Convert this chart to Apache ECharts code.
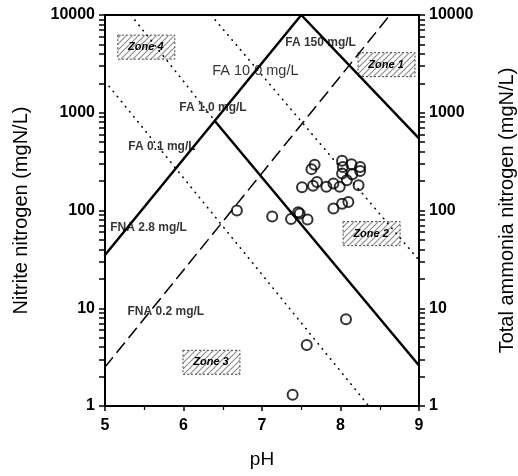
<!DOCTYPE html>
<html>
<head>
<meta charset="utf-8">
<script src="https://cdn.jsdelivr.net/npm/echarts@6/dist/echarts.min.js"></script>
<style>
html,body{margin:0;padding:0;background:#fff;}
#chart{width:518px;height:476px;}
</style>
</head>
<body>
<div id="chart"></div>
<script>
var phTicks = [5, 6, 7, 8, 9];
var yMajor = [1, 10, 100, 1000, 10000];

// boundary lines, [pH, mgN/L]
var fna28 = [[5, 35], [7.5, 10000]];
var fna02 = [[5, 2.5], [8.63, 10000]];
var fa150 = [[7.5, 10000], [9, 546]];
var fa1solid = [[6.41, 805], [9, 2.6]];
var fa1dot = [[5.33, 10000], [6.41, 805]];
var fa10dot = [[6.35, 10000], [9, 31]];
var fa01dot = [[5, 2100], [8.36, 1]];

// measured samples
var samples = [
  [6.68, 100], [7.13, 87], [7.37, 82], [7.46, 96], [7.48, 93], [7.58, 81],
  [7.51, 173], [7.65, 179], [7.70, 196], [7.63, 265], [7.67, 294],
  [7.82, 175], [7.91, 189], [7.99, 175], [7.91, 105], [8.02, 117], [8.10, 122],
  [8.02, 323], [8.03, 279], [8.14, 298], [8.25, 279], [8.02, 239], [8.15, 235],
  [8.25, 253], [8.08, 204], [8.23, 181],
  [8.07, 7.7], [7.57, 4.2], [7.39, 1.3]
];

var noteText = ['FA 150 mg/L', 'FA 10.0 mg/L', 'FA 1,0 mg/L', 'FA 0.1 mg/L', 'FNA 2.8 mg/L', 'FNA 0.2 mg/L'];
var notePos = [[7.29, 5270], [6.36, 2660], [5.94, 1115], [5.29, 445], [5.06, 66], [5.28, 9.3]];

var zoneText = ['Zone 4', 'Zone 1', 'Zone 2', 'Zone 3'];
var zonePos = [[5.52, 4690], [8.58, 3105], [8.39, 58], [6.35, 2.8]];

// all log ticks: 1..9 in each decade
var allTicks = [];
[1, 10, 100, 1000].forEach(function(d) {
  for (var k = 1; k <= 9; k++) allTicks.push(d * k);
});
allTicks.push(10000);

// hatch tile for the zone tags
var hatch = document.createElement('canvas');
hatch.width = 6; hatch.height = 6;
var g = hatch.getContext('2d');
g.fillStyle = '#fff'; g.fillRect(0, 0, 6, 6);
g.strokeStyle = '#8a8a8a'; g.lineWidth = 1.1;
g.beginPath();
g.moveTo(0, 6); g.lineTo(6, 0);
g.moveTo(-3, 3); g.lineTo(3, -3);
g.moveTo(3, 9); g.lineTo(9, 3);
g.stroke();

var font = 'Liberation Sans, Arial, sans-serif';

function lineSeries(data, width, type) {
  return {
    type: 'line', data: data, symbol: 'none', silent: true,
    lineStyle: {color: '#000', width: width, type: type, cap: 'round'}
  };
}

function logAxis(pos, name, gap) {
  return {
    type: 'log', logBase: 10, min: yMajor[0], max: yMajor[yMajor.length - 1], position: pos,
    name: name, nameLocation: 'middle', nameGap: gap,
    nameTextStyle: {color: '#000', fontSize: 20, fontFamily: font},
    axisLine: {show: true, lineStyle: {color: '#000', width: 2}},
    axisTick: {show: true, length: 6, customValues: allTicks, lineStyle: {color: '#000', width: 1.5}},
    axisLabel: {color: '#000', fontSize: 16, fontWeight: 'bold', fontFamily: font, margin: 10,
      customValues: yMajor, formatter: function(v) { return String(v); }},
    splitLine: {show: false}
  };
}

var chart = echarts.init(document.getElementById('chart'));
chart.setOption({
  animation: false,
  backgroundColor: '#fff',
  grid: {left: 105, right: 99, top: 15, bottom: 70, containLabel: false, outerBoundsMode: 'none'},
  xAxis: [{
    type: 'value', min: phTicks[0], max: phTicks[phTicks.length - 1], interval: 1, position: 'bottom',
    name: 'pH', nameLocation: 'middle', nameGap: 44,
    nameTextStyle: {color: '#000', fontSize: 19, fontFamily: font},
    axisLine: {lineStyle: {color: '#000', width: 2}},
    axisTick: {length: 5, lineStyle: {color: '#000', width: 1.5}},
    minorTick: {show: true, splitNumber: 2, length: 4, lineStyle: {color: '#000', width: 1.2}},
    axisLabel: {color: '#000', fontSize: 16, fontWeight: 'bold', fontFamily: font, margin: 12},
    splitLine: {show: false}
  }, {
    type: 'value', min: 5, max: 9, position: 'top',
    axisLine: {show: true, lineStyle: {color: '#000', width: 2}},
    axisTick: {show: false}, axisLabel: {show: false}, splitLine: {show: false}
  }],
  yAxis: [
    logAxis('left', 'Nitrite nitrogen (mgN/L)', 74),
    logAxis('right', 'Total ammonia nitrogen (mgN/L)', 78)
  ],
  series: [
    lineSeries(fna28, 2.5, 'solid'),
    lineSeries(fa150, 2.5, 'solid'),
    lineSeries(fa1solid, 2.5, 'solid'),
    lineSeries(fna02, 1.5, [12, 7]),
    lineSeries(fa1dot, 1.6, [0.5, 6]),
    lineSeries(fa10dot, 1.6, [0.5, 6]),
    lineSeries(fa01dot, 1.6, [0.5, 6]),
    {
      type: 'scatter', data: samples, symbol: 'circle', symbolSize: 10,
      itemStyle: {color: 'rgba(0,0,0,0)', borderColor: '#000', borderWidth: 2}
    },
    {
      type: 'custom', silent: true, data: zonePos,
      renderItem: function(params, api) {
        var c = api.coord([api.value(0), api.value(1)]);
        return {
          type: 'group',
          children: [{
            type: 'rect',
            shape: {x: c[0] - 28, y: c[1] - 12, width: 57, height: 24},
            style: {fill: {image: hatch, repeat: 'repeat'}, stroke: '#444', lineWidth: 1, lineDash: [2, 2]}
          }, {
            type: 'text',
            style: {x: c[0], y: c[1], text: zoneText[params.dataIndex], align: 'center', verticalAlign: 'middle',
              fill: '#000', font: 'italic bold 11px ' + font}
          }]
        };
      }
    },
    {
      type: 'scatter', silent: true, symbolSize: 1,
      itemStyle: {color: 'rgba(0,0,0,0)'},
      data: notePos.map(function(p, i) {
        var big = i === 1;
        return {name: noteText[i], value: p,
          label: {fontSize: big ? 14.5 : 12, fontWeight: big ? 'normal' : 'bold'}};
      }),
      label: {show: true, position: 'right', distance: 0, formatter: '{b}', color: '#000', fontFamily: font}
    }
  ]
});
</script>
</body>
</html>
